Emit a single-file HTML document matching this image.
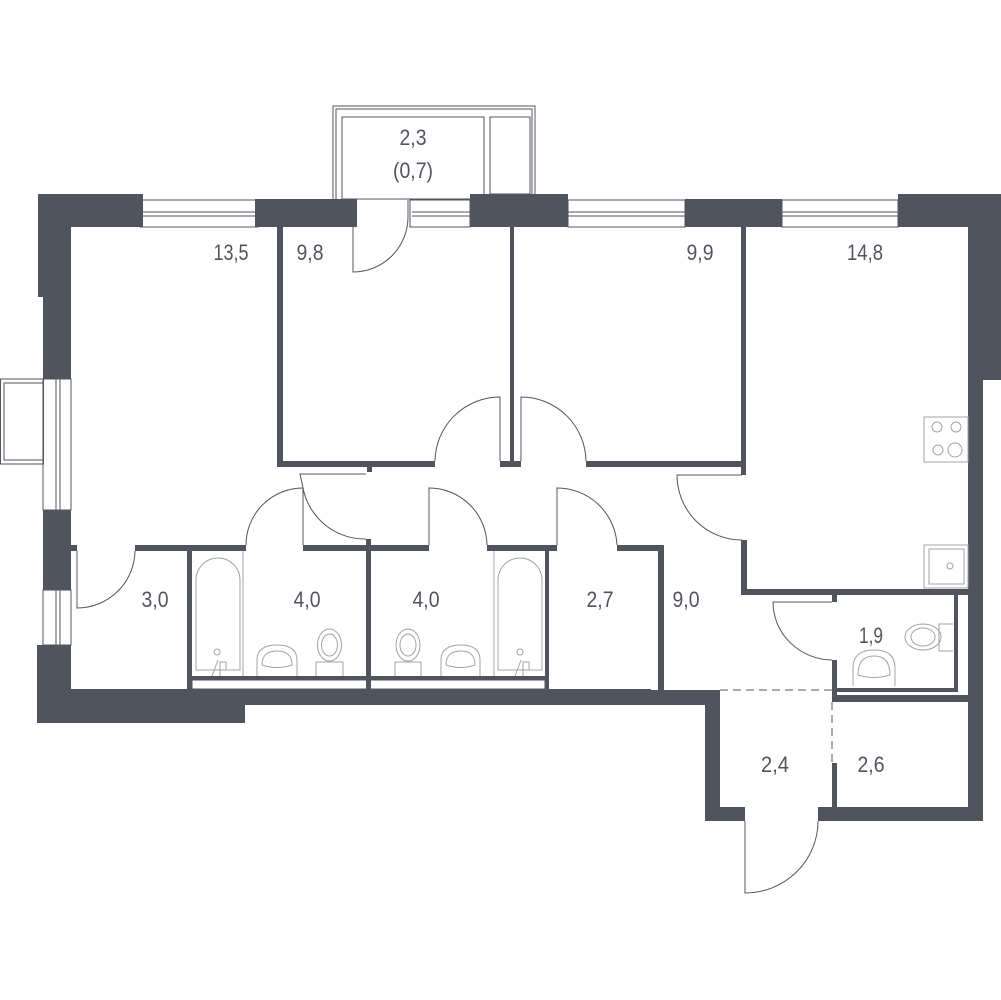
<!DOCTYPE html>
<html><head><meta charset="utf-8"><style>
html,body{margin:0;padding:0;background:#fff}
svg{display:block}
text{font-family:"Liberation Sans",sans-serif;font-size:22px;fill:#50545f;text-anchor:middle}
</style></head><body>
<svg width="1001" height="1000" viewBox="0 0 1001 1000" xmlns="http://www.w3.org/2000/svg">
<g fill="#50545f">
<!-- top-left corner -->
<rect x="38" y="194" width="105" height="33"/>
<rect x="38" y="194" width="33" height="103"/>
<rect x="43" y="290" width="28" height="89"/>
<!-- top wall blocks -->
<rect x="255" y="199" width="102" height="28"/>
<rect x="470" y="194" width="98" height="33"/>
<rect x="685" y="199" width="97" height="28"/>
<rect x="898" y="194" width="103" height="33"/>
<rect x="968" y="194" width="33" height="186"/>
<rect x="968" y="370" width="15" height="451"/>
<!-- left wall lower -->
<rect x="43" y="510" width="28" height="80"/>
<rect x="37" y="645" width="34" height="78"/>
<rect x="37" y="689" width="208" height="34"/>
<rect x="37" y="689" width="614" height="16"/>
<rect x="651" y="690" width="69" height="15"/>
<rect x="705" y="690" width="15" height="131"/>
<rect x="705" y="807" width="40" height="14"/>
<rect x="818" y="807" width="165" height="14"/>
<!-- interior walls -->
<rect x="277" y="227" width="6" height="240"/>
<rect x="277" y="461" width="158" height="6"/>
<rect x="367" y="461" width="5" height="11"/>
<rect x="510" y="227" width="4" height="240"/>
<rect x="500" y="461" width="21" height="6"/>
<rect x="586" y="461" width="156" height="6"/>
<rect x="741" y="227" width="5" height="248"/>
<rect x="741" y="540" width="6" height="55"/>
<rect x="741" y="589" width="227" height="6"/>
<rect x="832" y="595" width="5" height="7"/>
<rect x="832" y="660" width="5" height="42"/>
<rect x="837" y="688" width="121" height="4"/>
<rect x="954" y="595" width="4" height="97"/>
<rect x="832" y="695" width="136" height="7"/>
<rect x="832" y="763" width="5" height="44"/>
<!-- lower rooms -->
<rect x="71" y="545" width="6" height="6"/>
<rect x="135" y="545" width="111" height="6"/>
<rect x="187" y="545" width="5" height="144"/>
<rect x="303" y="545" width="126" height="6"/>
<rect x="366" y="539" width="5" height="150"/>
<rect x="487" y="545" width="70" height="6"/>
<rect x="545" y="545" width="4" height="144"/>
<rect x="617" y="545" width="47" height="6"/>
<rect x="658" y="545" width="6" height="145"/>
<rect x="187" y="676" width="362" height="4"/>
</g>
<g fill="none" stroke="#50545f" stroke-width="1">
<!-- windows -->
<rect x="140" y="200" width="118" height="27"/><line x1="143" y1="212" x2="255" y2="212"/><line x1="143" y1="216" x2="255" y2="216"/>
<rect x="410" y="200" width="60" height="27"/><line x1="412" y1="212" x2="470" y2="212"/><line x1="412" y1="216" x2="470" y2="216"/>
<rect x="568" y="200" width="117" height="27"/><line x1="568" y1="212" x2="685" y2="212"/><line x1="568" y1="216" x2="685" y2="216"/>
<rect x="782" y="200" width="116" height="27"/><line x1="782" y1="212" x2="898" y2="212"/><line x1="782" y1="216" x2="898" y2="216"/>
<rect x="43" y="379" width="28" height="131"/><line x1="56" y1="379" x2="56" y2="510"/><line x1="60" y1="379" x2="60" y2="510"/>
<rect x="43" y="590" width="28" height="55"/><line x1="56" y1="590" x2="56" y2="645"/><line x1="60" y1="590" x2="60" y2="645"/>
<rect x="0.5" y="379" width="43" height="85"/><rect x="4" y="383" width="39" height="77"/>
<!-- balcony -->
<path d="M333 199 V106 H535 V194"/><path d="M336 199 V109 H532 V194"/>
<rect x="342" y="117" width="142" height="82"/><rect x="490" y="117" width="40" height="77"/>
<!-- doors -->
<path d="M353 227 V272 A55 55 0 0 0 408 217 V200"/>
<path d="M435 461 A65 65 0 0 1 500 397 V461"/>
<path d="M521 461 V397 A65 65 0 0 1 586 461"/>
<path d="M742 475 H677 A65 65 0 0 0 742 540"/>
<path d="M77 551 V608 A58 58 0 0 0 135 551"/>
<path d="M246 545 A57 57 0 0 1 303 488 V545"/>
<path d="M366 474 H300 L303 488 A63 63 0 0 0 366 539"/>
<path d="M429 545 V488 A58 58 0 0 1 487 545"/>
<path d="M557 545 V488 A60 60 0 0 1 617 545"/>
<path d="M832 602 H773 A60 58 0 0 0 832 660"/>
<path d="M745 821 V893 A73 72 0 0 0 818 821"/>
<line x1="720" y1="690" x2="832" y2="690" stroke-dasharray="8,5"/>
<line x1="832" y1="702" x2="832" y2="763" stroke-dasharray="8,5"/>
<rect x="192" y="680" width="353" height="9"/>
</g>
<g fill="none" stroke="#a0a3a8" stroke-width="1">
<!-- bath 1 -->
<path d="M196 670 V580 A22 22 0 0 1 240 580 V670 Z"/><line x1="243" y1="551" x2="243" y2="676"/>
<circle cx="217" cy="652" r="3"/><path d="M212 676 L218 660 M220 676 V662 H226 V670"/>
<path d="M257 676 V660 Q257 645 277 645 Q297 645 297 660 V676"/><path d="M262 665 Q262 651 277 651 Q292 651 292 665 Q277 670 262 665"/>
<path d="M316 676 V662 H343 V676"/><ellipse cx="329.5" cy="645" rx="12" ry="16"/><ellipse cx="329.5" cy="645" rx="8" ry="11"/>
<!-- bath 2 -->
<path d="M498 670 V580 A22 22 0 0 1 542 580 V670 Z"/><line x1="494" y1="551" x2="494" y2="676"/>
<circle cx="520" cy="652" r="3"/><path d="M515 676 L521 660 M523 676 V662 H529 V670"/>
<path d="M441 676 V660 Q441 645 461 645 Q480 645 480 660 V676"/><path d="M446 665 Q446 651 461 651 Q475 651 475 665 Q461 670 446 665"/>
<path d="M395 676 V662 H421 V676"/><ellipse cx="408" cy="645" rx="12" ry="16"/><ellipse cx="408" cy="645" rx="8" ry="11"/>
<!-- WC -->
<path d="M853 686 V668 Q853 650 874 650 Q895 650 895 668 V686"/><path d="M858 675 Q858 656 874 656 Q890 656 890 675 Q874 680 858 675"/>
<path d="M953 624 H939 V651 H953"/><ellipse cx="923" cy="637" rx="18" ry="13"/><ellipse cx="923" cy="637" rx="12" ry="9"/>
<!-- kitchen -->
<rect x="924" y="417" width="44" height="45"/>
<circle cx="937" cy="427" r="5"/><circle cx="956" cy="427" r="5"/><circle cx="938" cy="450" r="5"/><circle cx="955" cy="450" r="7"/>
<rect x="924" y="545" width="44" height="43"/><rect x="929" y="549" width="35" height="35"/><circle cx="950" cy="566" r="3"/>
</g>
<text x="231" y="260" textLength="35" lengthAdjust="spacingAndGlyphs">13,5</text>
<text x="310" y="260" textLength="27" lengthAdjust="spacingAndGlyphs">9,8</text>
<text x="413" y="145" textLength="27" lengthAdjust="spacingAndGlyphs">2,3</text>
<text x="413" y="178" textLength="40" lengthAdjust="spacingAndGlyphs">(0,7)</text>
<text x="700" y="260" textLength="27" lengthAdjust="spacingAndGlyphs">9,9</text>
<text x="865" y="260" textLength="36" lengthAdjust="spacingAndGlyphs">14,8</text>
<text x="155" y="607" textLength="27" lengthAdjust="spacingAndGlyphs">3,0</text>
<text x="307" y="607" textLength="27" lengthAdjust="spacingAndGlyphs">4,0</text>
<text x="426" y="607" textLength="27" lengthAdjust="spacingAndGlyphs">4,0</text>
<text x="600" y="607" textLength="27" lengthAdjust="spacingAndGlyphs">2,7</text>
<text x="686" y="607" textLength="27" lengthAdjust="spacingAndGlyphs">9,0</text>
<text x="871" y="643" textLength="24" lengthAdjust="spacingAndGlyphs">1,9</text>
<text x="775" y="772" textLength="28" lengthAdjust="spacingAndGlyphs">2,4</text>
<text x="871" y="772" textLength="27" lengthAdjust="spacingAndGlyphs">2,6</text>
</svg>
</body></html>
